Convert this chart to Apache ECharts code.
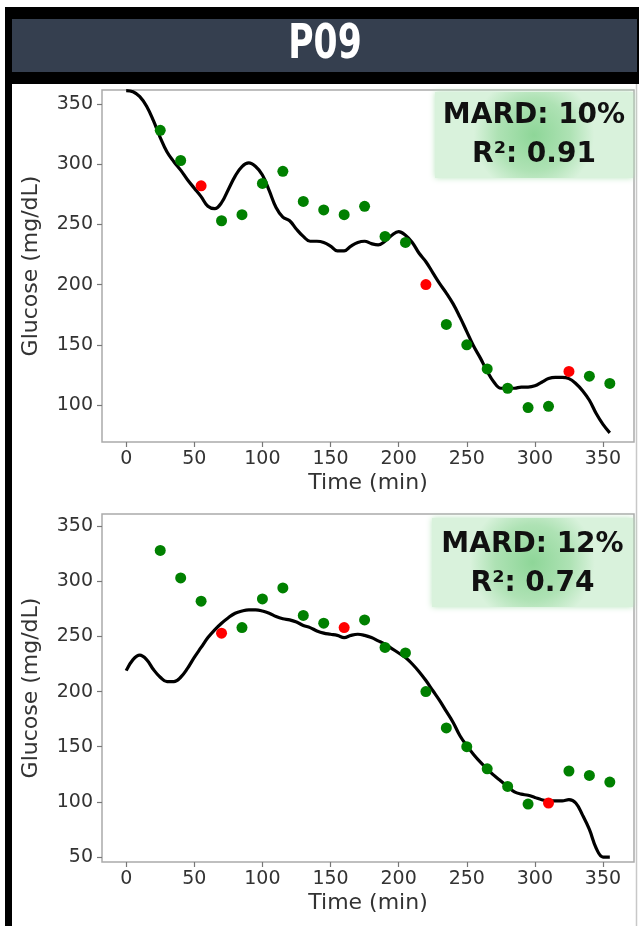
<!DOCTYPE html>
<html>
<head>
<meta charset="utf-8">
<script src="https://cdn.jsdelivr.net/npm/echarts@6/dist/echarts.min.js"></script>
<style>
  html, body { margin: 0; padding: 0; background: #fff; }
  #chart { width: 639px; height: 926px; }
</style>
</head>
<body>
<div id="chart"></div>
<script>
// Fingerstick reference samples (every 15 min)
const sampleTimes = [25, 40, 55, 70, 85, 100, 115, 130, 145, 160, 175, 190, 205, 220, 235, 250, 265, 280, 295, 310, 325, 340, 355];
const referenceGlucose = [328, 303, 282, 253, 258, 284, 294, 269, 262, 258, 265, 240, 235, 200, 167, 150, 130, 114, 98, 99, 128, 124, 118];

// Samples used for calibration in each model (drawn in red)
const topCalibrationTimes = [55, 220, 325];
const bottomCalibrationTimes = [70, 160, 310];

// Estimated glucose traces
const curveTimes = [0, 5, 10, 15, 20, 25, 30, 35, 40, 45, 50, 55, 60, 65, 70, 75, 80, 85, 90, 95,
  100, 105, 110, 115, 120, 125, 130, 135, 140, 145, 150, 155, 160, 165, 170, 175, 180, 185, 190, 195,
  200, 205, 210, 215, 220, 225, 230, 235, 240, 245, 250, 255, 260, 265, 270, 275, 280, 285, 290, 295,
  300, 305, 310, 315, 320, 325, 330, 335, 340, 345, 350, 355];
const topCurve = [361, 360, 356, 348, 336, 322, 310, 302, 295, 287, 280, 273, 265, 263, 268, 279, 290, 298, 301, 298,
  291, 278, 264, 256, 253, 246, 240, 236, 236, 235, 232, 228, 228, 232, 235, 236, 234, 233, 236, 241,
  244, 241, 235, 226, 219, 210, 201, 193, 184, 173, 161, 149, 139, 128, 119, 114, 114, 114, 115, 115,
  116, 119, 122, 123, 123, 122, 118, 112, 104, 93, 84, 77];
const bottomCurve = [219, 229, 233, 229, 220, 213, 209, 209, 213, 221, 231, 240, 249, 256, 262, 267, 271, 273, 274, 274,
  273, 271, 268, 266, 265, 263, 260, 258, 255, 253, 252, 251, 249, 251, 252, 251, 249, 246, 243, 239,
  235, 231, 225, 218, 210, 201, 192, 182, 172, 160, 151, 143, 136, 130, 124, 119, 114, 109, 107, 106,
  104, 102, 101, 101, 101, 102, 99, 88, 75, 58, 50, 50];

// Axis ticks
const xTicks = [0, 50, 100, 150, 200, 250, 300, 350];
const yTicksTop = [100, 150, 200, 250, 300, 350];
const yTicksBottom = [50, 100, 150, 200, 250, 300, 350];

// Panel metrics
const topStats = { mard: 'MARD: 10%', r2: 'R²: 0.91' };
const bottomStats = { mard: 'MARD: 12%', r2: 'R²: 0.74' };

const FONT = 'DejaVu Sans';

function pairs(xs, ys) { return xs.map((x, i) => [x, ys[i]]); }
function splitSamples(redTimes) {
  const green = [], red = [];
  sampleTimes.forEach((t, i) => {
    (redTimes.includes(t) ? red : green).push([t, referenceGlucose[i]]);
  });
  return { green, red };
}

const tickStyle = { color: '#777', width: 1.2 };

function xAxisFor(gridIndex) {
  return {
    type: 'value', gridIndex, min: -17.75, max: 372.75,
    name: 'Time (min)', nameLocation: 'middle', nameGap: 30,
    nameTextStyle: { fontFamily: FONT, fontSize: 22, color: '#333' },
    axisLine: { show: false, onZero: false },
    splitLine: { show: false },
    axisTick: { show: true, inside: false, length: 5, lineStyle: tickStyle, customValues: xTicks },
    axisLabel: { fontFamily: FONT, fontSize: 19, color: '#333', margin: 8, customValues: xTicks, formatter: v => String(v) }
  };
}
function yAxisFor(gridIndex, min, max, ticks) {
  return {
    type: 'value', gridIndex, min, max,
    name: 'Glucose (mg/dL)', nameLocation: 'middle', nameGap: 60,
    nameTextStyle: { fontFamily: FONT, fontSize: 22, color: '#333' },
    axisLine: { show: false, onZero: false },
    splitLine: { show: false },
    axisTick: { show: true, inside: false, length: 5, lineStyle: tickStyle, customValues: ticks },
    axisLabel: { fontFamily: FONT, fontSize: 19, color: '#333', margin: 9, customValues: ticks, formatter: v => String(v) }
  };
}

function statsBox(x, y, w, h, stats, line1Y, line2Y) {
  return [
    {
      type: 'rect', z: 50,
      shape: { x, y, width: w, height: h },
      style: {
        fill: new echarts.graphic.RadialGradient(0.5, 0.5, 0.7, [
          { offset: 0, color: '#8ed698' },
          { offset: 0.6, color: '#aee2b4' },
          { offset: 1, color: '#d9f2dc' }
        ]),
        shadowBlur: 6, shadowColor: 'rgba(180,228,186,0.9)'
      }
    },
    {
      type: 'text', z: 51, x: x + w / 2, y: line1Y,
      style: { text: stats.mard, fontFamily: FONT, fontWeight: 'bold', fontSize: 28, fill: '#111', align: 'center', verticalAlign: 'middle' }
    },
    {
      type: 'text', z: 51, x: x + w / 2, y: line2Y,
      style: { text: stats.r2, fontFamily: FONT, fontWeight: 'bold', fontSize: 28, fill: '#111', align: 'center', verticalAlign: 'middle' }
    }
  ];
}

const topSamples = splitSamples(topCalibrationTimes);
const bottomSamples = splitSamples(bottomCalibrationTimes);

const chart = echarts.init(document.getElementById('chart'), null, { renderer: 'canvas' });

const lineStyle = { color: '#000', width: 3.2 };
const greenDot = { color: '#008000', opacity: 1 };
const redDot = { color: '#ff0000', opacity: 1 };

chart.setOption({
  backgroundColor: '#fff',
  animation: false,
  grid: [
    { left: 102, right: 5, top: 90, height: 352, show: true, backgroundColor: '#fff', borderColor: '#aaa', borderWidth: 1.5 },
    { left: 102, right: 5, top: 514, height: 348, show: true, backgroundColor: '#fff', borderColor: '#aaa', borderWidth: 1.5 }
  ],
  xAxis: [xAxisFor(0), xAxisFor(1)],
  yAxis: [yAxisFor(0, 69.4, 361.5, yTicksTop), yAxisFor(1, 45.5, 361, yTicksBottom)],
  graphic: [
    // frame and header band
    { type: 'rect', z: 1, shape: { x: 5, y: 7, width: 634, height: 77 }, style: { fill: '#000' } },
    { type: 'rect', z: 2, shape: { x: 12, y: 19, width: 625, height: 53 }, style: { fill: '#353f4f' } },
    { type: 'rect', z: 1, shape: { x: 5, y: 84, width: 7, height: 842 }, style: { fill: '#000' } },
    { type: 'line', z: 1, shape: { x1: 636.5, y1: 84, x2: 636.5, y2: 926 }, style: { stroke: '#c8c8c8', lineWidth: 1.5 } },
    {
      type: 'text', z: 3, x: 325, y: 46, scaleX: 0.72,
      style: { text: 'P09', fontFamily: 'DejaVu Sans', fontWeight: 'bold', fontSize: 48, fill: '#fff', align: 'center', verticalAlign: 'middle' }
    },
    ...statsBox(435, 92, 198, 86, topStats, 116, 155),
    ...statsBox(432, 518, 201, 89, bottomStats, 545, 584)
  ],
  series: [
    { type: 'line', xAxisIndex: 0, yAxisIndex: 0, data: pairs(curveTimes, topCurve), smooth: 0.4, showSymbol: false, lineStyle, z: 3, clip: true },
    { type: 'scatter', xAxisIndex: 0, yAxisIndex: 0, data: topSamples.green, symbolSize: 11, itemStyle: greenDot, z: 4 },
    { type: 'scatter', xAxisIndex: 0, yAxisIndex: 0, data: topSamples.red, symbolSize: 11, itemStyle: redDot, z: 4 },
    { type: 'line', xAxisIndex: 1, yAxisIndex: 1, data: pairs(curveTimes, bottomCurve), smooth: 0.4, showSymbol: false, lineStyle, z: 3, clip: true },
    { type: 'scatter', xAxisIndex: 1, yAxisIndex: 1, data: bottomSamples.green, symbolSize: 11, itemStyle: greenDot, z: 4 },
    { type: 'scatter', xAxisIndex: 1, yAxisIndex: 1, data: bottomSamples.red, symbolSize: 11, itemStyle: redDot, z: 4 }
  ]
});
</script>
</body>
</html>
